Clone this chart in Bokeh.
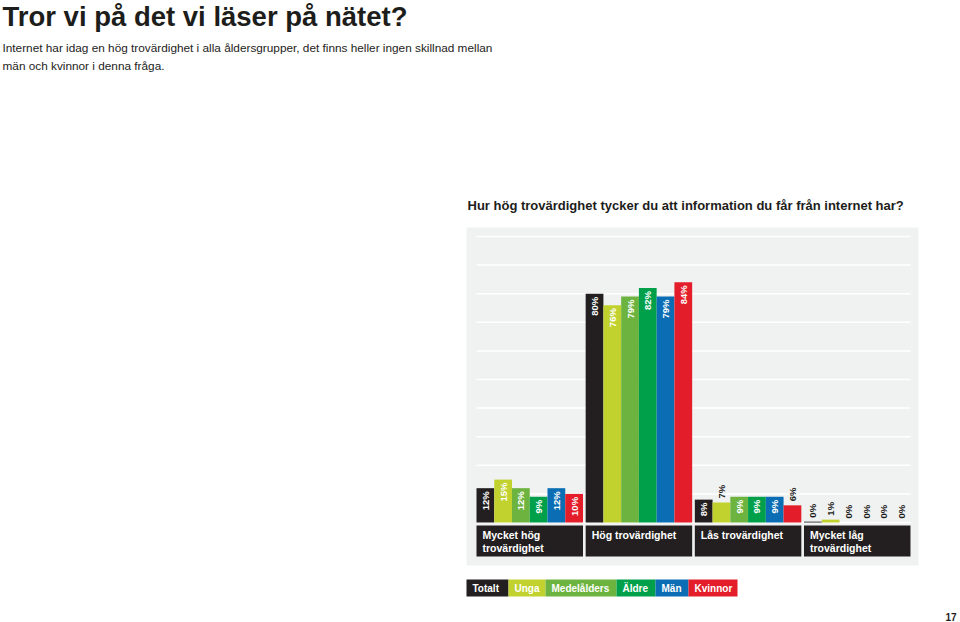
import math
from bokeh.plotting import figure
from bokeh.models import ColumnDataSource, Range1d
from bokeh.core.properties import value
from bokeh.embed import file_html
from bokeh.resources import INLINE

# ---------------- data ----------------
categories = ["Mycket hög\ntrovärdighet", "Hög trovärdighet", "Lås trovärdighet", "Mycket låg\ntrovärdighet"]
series = ["Totalt", "Unga", "Medelålders", "Äldre", "Män", "Kvinnor"]

totalt = [12, 80, 8, 0.3]
unga = [15, 76, 7, 1]
medelalders = [12, 79, 9, 0]
aldre = [9, 82, 9, 0]
man = [12, 79, 9, 0]
kvinnor = [10, 84, 6, 0]

grid_ticks = list(range(0, 101, 10))

title = "Tror vi på det vi läser på nätet?"
intro = ["Internet har idag en hög trovärdighet i alla åldersgrupper, det finns heller ingen skillnad mellan",
         "män och kvinnor i denna fråga."]
question = "Hur hög trovärdighet tycker du att information du får från internet har?"
page_number = "17"

# ---------------- style / layout ----------------
colors = ["#231f20", "#c1d22f", "#6db33f", "#00a04b", "#0b6db4", "#e31e2a"]
FONT = "Liberation Sans"
INK = "#1d1d1b"
PANEL = "#f0f1f1"

W, H = 960, 622
PANEL_BOX = (466, 918, 227, 565)          # left, right, top, bottom (page px)
X0_PX, BAR_PX = 476, 17.75                # first bar edge, px per bar
BASE_PX, PCT_PX = 522, 2.86               # baseline, px per percent
GAP = 0.15                                # gap between groups, in bar widths
BOX_TOP, BOX_BOTTOM = -1.05, -11.9        # category label boxes (percent units)
LEGEND_EDGES = [466, 508, 545, 616, 655, 688, 737]
LEGEND_TOP, LEGEND_BOTTOM = 579, 596

n_s = len(series)
values = [totalt, unga, medelalders, aldre, man, kvinnor]
xs, vs, cs = [], [], []
for ci in range(len(categories)):
    for si in range(n_s):
        xs.append(ci * (n_s + GAP) + si + 0.5)
        vs.append(values[si][ci])
        cs.append(colors[si])
labels = [f"{round(v)}%" for v in vs]
span = (len(categories) - 1) * (n_s + GAP) + n_s

src = ColumnDataSource(dict(x=xs, v=vs, color=cs))
ins = [i for i, v in enumerate(vs) if v >= 8]
out = [i for i, v in enumerate(vs) if v < 8]
inside = ColumnDataSource(dict(x=[xs[i] for i in ins], v=[vs[i] for i in ins], label=[labels[i] for i in ins]))
above = ColumnDataSource(dict(x=[xs[i] for i in out], v=[vs[i] for i in out], label=[labels[i] for i in out]))

p = figure(width=W, height=H,
           x_range=Range1d(-X0_PX / BAR_PX, (W - X0_PX) / BAR_PX),
           y_range=Range1d(-(H - BASE_PX) / PCT_PX, BASE_PX / PCT_PX),
           output_backend="svg", toolbar_location=None, title=None,
           x_axis_location=None, y_axis_location=None, min_border=0)
p.extra_x_ranges = {"page": Range1d(0, W)}
p.extra_y_ranges = {"page": Range1d(H, 0)}
p.background_fill_color = "white"
p.border_fill_color = "white"
p.outline_line_color = None
p.xgrid.visible = False
p.ygrid.visible = False

PG = dict(x_range_name="page", y_range_name="page")

# grey panel
p.quad(left=[PANEL_BOX[0]], right=[PANEL_BOX[1]], top=[PANEL_BOX[2]], bottom=[PANEL_BOX[3]],
       fill_color=PANEL, line_color=None, **PG)

# grid lines over the bar area
p.segment(x0=[0] * len(grid_ticks), x1=[span] * len(grid_ticks), y0=grid_ticks, y1=grid_ticks,
          line_color="white", line_width=1.5)

# bars
p.vbar(x="x", top="v", bottom=0, width=1.0, source=src, fill_color="color", line_color=None)

# value labels
common = dict(angle=math.pi / 2, text_baseline="middle", text_font=value(FONT),
              text_font_style="bold", text_font_size="9.5px")
p.text(x="x", y="v", text="label", source=inside, text_align="right", y_offset=3,
       text_color="white", **common)
p.text(x="x", y="v", text="label", source=above, text_align="left", y_offset=-4,
       text_color=INK, **common)

# category boxes
g_left = [ci * (n_s + GAP) for ci in range(len(categories))]
p.quad(left=g_left, right=[g + n_s for g in g_left], top=[BOX_TOP] * len(g_left),
       bottom=[BOX_BOTTOM] * len(g_left), fill_color="#231f20", line_color=None)
p.text(x=g_left, y=[BOX_TOP] * len(g_left), text=categories,
       x_offset=6, y_offset=3.5, text_align="left", text_baseline="top", text_line_height=1.05,
       text_font=value(FONT), text_font_style="bold", text_font_size="10.5px", text_color="white")

# page texts
def ptext(txt, x, y, size, bold=False, color=INK, align="left", baseline="alphabetic"):
    p.text(x=[x], y=[y], text=[txt], text_font=value(FONT), text_font_size=size,
           text_font_style="bold" if bold else "normal", text_color=color,
           text_align=align, text_baseline=baseline, **PG)

ptext(title, 2, 16, "27.5px", bold=True)
ptext(intro[0], 2, 47.5, "11.8px")
ptext(intro[1], 2, 65.5, "11.8px")
ptext(question, 467, 204.5, "13px", bold=True)
ptext(page_number, 956, 616.5, "10px", bold=True, align="right")

# legend strip
p.quad(left=LEGEND_EDGES[:-1], right=LEGEND_EDGES[1:], top=[LEGEND_TOP] * n_s,
       bottom=[LEGEND_BOTTOM] * n_s, fill_color=colors, line_color=None, **PG)
for i, name in enumerate(series):
    ptext(name, LEGEND_EDGES[i] + 6, (LEGEND_TOP + LEGEND_BOTTOM) / 2, "10px", bold=True,
          color="white", baseline="middle")

open("out.html", "w").write(file_html(p, INLINE))
